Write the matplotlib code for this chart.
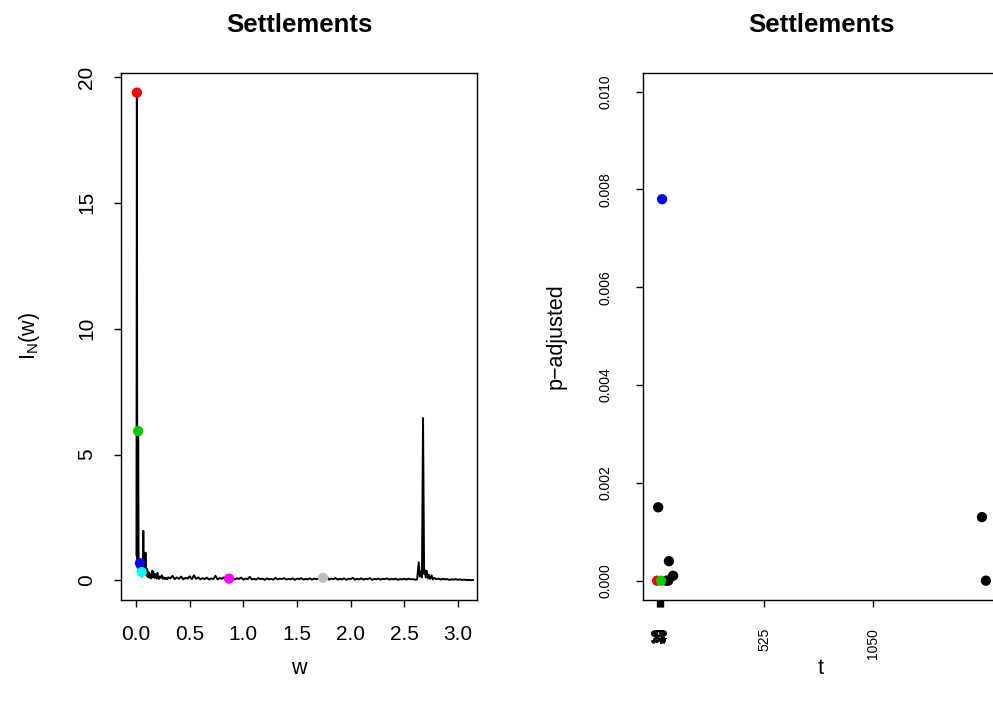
# Periodogram of settlements + adjusted p-values by period

import matplotlib
matplotlib.use("Agg")
import matplotlib.pyplot as plt

plt.rcParams['font.family'] = ['Liberation Sans', 'DejaVu Sans']

# periodogram (frequency w, ordinate I_N(w))
freq = [0.004, 0.008, 0.012, 0.016, 0.020, 0.024, 0.028, 0.032, 0.037, 0.042,
        0.047, 0.053, 0.058, 0.063, 0.068, 0.073, 0.078, 0.083, 0.088, 0.093,
        0.098, 0.103, 0.108, 0.113, 0.118, 0.123, 0.130, 0.135, 0.140, 0.150,
        0.155, 0.160, 0.170, 0.180, 0.190, 0.200, 0.210, 0.220, 0.230, 0.240,
        0.250, 0.260, 0.270, 0.280, 0.290, 0.300,
        0.32, 0.34, 0.36, 0.38, 0.40, 0.42, 0.44, 0.46, 0.48, 0.50,
        0.52, 0.54, 0.56, 0.58, 0.60, 0.62, 0.64, 0.66, 0.68, 0.70,
        0.72, 0.74, 0.76, 0.78, 0.80, 0.82, 0.84, 0.867, 0.88, 0.90,
        0.92, 0.94, 0.96, 0.98, 1.00, 1.02, 1.04, 1.06, 1.08, 1.10,
        1.12, 1.14, 1.16, 1.18, 1.20, 1.22, 1.24, 1.26, 1.28, 1.30,
        1.32, 1.34, 1.36, 1.38, 1.40, 1.42, 1.44, 1.46, 1.48, 1.50,
        1.52, 1.54, 1.56, 1.58, 1.60, 1.62, 1.64, 1.66, 1.68, 1.70,
        1.72, 1.743, 1.76, 1.78, 1.80, 1.82, 1.84, 1.86, 1.88, 1.90,
        1.92, 1.94, 1.96, 1.98, 2.00, 2.02, 2.04, 2.06, 2.08, 2.10,
        2.12, 2.14, 2.16, 2.18, 2.20, 2.22, 2.24, 2.26, 2.28, 2.30,
        2.32, 2.34, 2.36, 2.38, 2.40, 2.42, 2.44, 2.46, 2.48, 2.50,
        2.52, 2.54, 2.56, 2.58, 2.60,
        2.620, 2.635, 2.645, 2.655, 2.665, 2.675, 2.685, 2.690, 2.700, 2.710,
        2.720, 2.730, 2.740, 2.755, 2.765, 2.780, 2.800, 2.820, 2.840, 2.860,
        2.880, 2.900, 2.920, 2.940, 2.960, 2.980, 3.000, 3.020, 3.040, 3.060,
        3.080, 3.100, 3.120, 3.140]
spec = [1.00, 19.38, 0.90, 0.50, 5.93, 0.80, 0.40, 0.25, 0.68, 0.30,
        0.20, 0.33, 0.15, 0.35, 1.97, 0.30, 0.60, 0.25, 1.10, 0.40,
        0.20, 0.45, 0.15, 0.35, 0.12, 0.30, 0.10, 0.20, 0.08, 0.38,
        0.12, 0.35, 0.10, 0.25, 0.08, 0.30, 0.05, 0.15, 0.10, 0.20,
        0.06, 0.12, 0.05, 0.10, 0.04, 0.12,
        0.08, 0.18, 0.05, 0.12, 0.06, 0.15, 0.04, 0.10, 0.07, 0.16,
        0.05, 0.20, 0.06, 0.12, 0.04, 0.09, 0.05, 0.11, 0.03, 0.08,
        0.05, 0.18, 0.04, 0.09, 0.06, 0.12, 0.03, 0.07, 0.05, 0.10,
        0.04, 0.08, 0.06, 0.11, 0.03, 0.07, 0.05, 0.14, 0.04, 0.06,
        0.03, 0.09, 0.05, 0.07, 0.02, 0.08, 0.04, 0.06, 0.03, 0.10,
        0.04, 0.07, 0.05, 0.09, 0.03, 0.06, 0.04, 0.08, 0.02, 0.07,
        0.05, 0.09, 0.03, 0.06, 0.04, 0.08, 0.03, 0.07, 0.05, 0.06,
        0.04, 0.10, 0.04, 0.12, 0.03, 0.07, 0.05, 0.09, 0.03, 0.06,
        0.04, 0.08, 0.02, 0.07, 0.05, 0.10, 0.03, 0.06, 0.04, 0.08,
        0.03, 0.06, 0.05, 0.09, 0.02, 0.06, 0.04, 0.07, 0.03, 0.06,
        0.05, 0.08, 0.03, 0.06, 0.04, 0.07, 0.02, 0.05, 0.04, 0.06,
        0.03, 0.07, 0.04, 0.05, 0.03,
        0.04, 0.72, 0.15, 0.35, 0.12, 6.45, 0.25, 0.42, 0.12, 0.38,
        0.08, 0.22, 0.06, 0.20, 0.04, 0.10, 0.05, 0.07, 0.03, 0.06,
        0.04, 0.05, 0.02, 0.04, 0.03, 0.05, 0.02, 0.04, 0.02, 0.03,
        0.01, 0.02, 0.01, 0.01]

# highlighted peaks on the periodogram
peak_w = [0.008, 0.020, 0.037, 0.053, 0.867, 1.743]
peak_I = [19.38, 5.93, 0.68, 0.33, 0.07, 0.10]
peak_col = ['#FF0000', '#00CD00', '#0000FF', '#00FFFF', '#FF00FF', '#BEBEBE']

# adjusted p-values against period t
t_black = [15, 55, 63, 67, 87, 1575, 1594]
p_black = [0.0015, 0.0, 0.0, 0.0004, 0.0001, 0.0013, 0.0]
t_col = [10, 29, 34]
p_col = [0.0, 0.0, 0.0078]
t_col_c = ['#FF0000', '#00CD00', '#0000FF']

t_ticks = [10, 15, 20, 25, 30, 35, 40, 525, 1050]
p_ticks = [0.000, 0.002, 0.004, 0.006, 0.008, 0.010]

W, H = 993, 713
fig = plt.figure(figsize=(W / 100, H / 100), dpi=100)

def px_axes(x0, x1, y0, y1):
    return fig.add_axes([x0 / W, 1 - y1 / H, (x1 - x0) / W, (y1 - y0) / H])

ax1 = px_axes(121, 477, 73, 600)
ax2 = px_axes(643, 999, 73, 600)

for ax in (ax1, ax2):
    for s in ax.spines.values():
        s.set_linewidth(1.0)
    ax.tick_params(direction='out', length=5, width=1.0, color='black')

# left panel: periodogram
ax1.plot(freq, spec, color='black', lw=1.4)
ax1.scatter(peak_w, peak_I, c=peak_col, s=55, zorder=3, edgecolors='none')
ax1.set_xlim(-0.14, 3.178)
ax1.set_ylim(-0.78, 20.16)
ax1.set_xticks([0.0, 0.5, 1.0, 1.5, 2.0, 2.5, 3.0])
ax1.set_xticklabels(['0.0', '0.5', '1.0', '1.5', '2.0', '2.5', '3.0'], fontsize=15)
ax1.set_yticks([0, 5, 10, 15, 20])
ax1.set_yticklabels(['0', '5', '10', '15', '20'], fontsize=15,
                    rotation=90, va='center')
ax1.tick_params(axis='x', pad=13)
ax1.tick_params(axis='y', pad=13)

# right panel: p-adjusted vs t
ax2.scatter(t_black, p_black, c='black', s=55, zorder=3, edgecolors='none')
ax2.scatter(t_col, p_col, c=t_col_c, s=55, zorder=4, edgecolors='none')
ax2.set_xlim(-58, 1657)
ax2.set_ylim(-0.000395, 0.01038)
ax2.set_xticks(t_ticks)
ax2.set_xticklabels([str(v) for v in t_ticks], fontsize=10, rotation=90)
ax2.tick_params(axis='x', which='major', pad=15)
ax2.set_yticks(p_ticks)
ax2.set_yticklabels(['%.3f' % v for v in p_ticks], fontsize=10,
                    rotation=90, va='center')
ax2.tick_params(axis='y', pad=17)

fig.text(299 / W, 1 - 25 / H, 'Settlements', ha='center', va='center',
         fontsize=18.5, fontweight='bold')
fig.text(821 / W, 1 - 25 / H, 'Settlements', ha='center', va='center',
         fontsize=18.5, fontweight='bold')
fig.text(299 / W, 1 - 668 / H, 'w', ha='center', va='center', fontsize=15.5)
fig.text(821 / W, 1 - 668 / H, 't', ha='center', va='center', fontsize=15.5)
fig.text(30 / W, 1 - 336 / H, r'$\mathregular{I_N(w)}$', ha='center',
         va='center', rotation=90, fontsize=15.5)
fig.text(556 / W, 1 - 336 / H, 'p\u2212adjusted', ha='center', va='center',
         rotation=90, fontsize=15.5)

fig.savefig('out.png', dpi=100)
